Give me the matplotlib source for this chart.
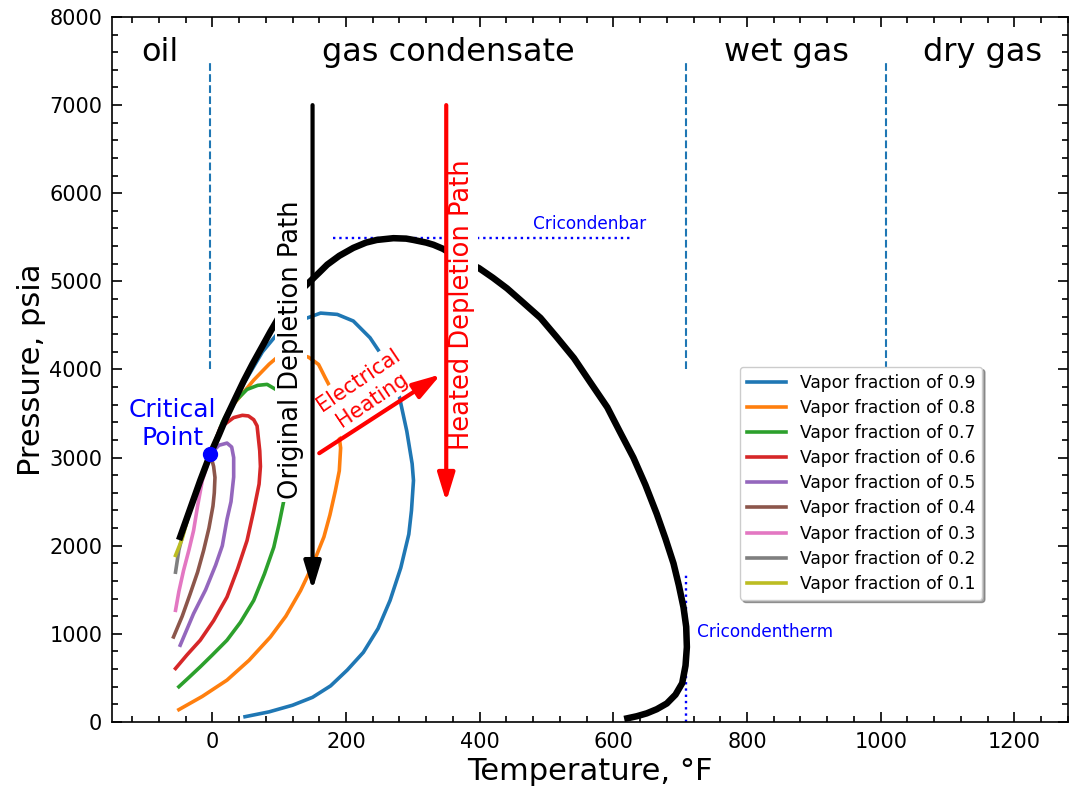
import matplotlib
matplotlib.use("Agg")
import matplotlib.pyplot as plt
from matplotlib.ticker import MultipleLocator

# phase envelope (temperature F, pressure psia)
env_T = [-48, -33, -18, -3, 10, 20, 35, 47, 60, 75, 87, 99, 115, 130, 145, 160, 172, 190, 211, 230,
         246, 271, 290, 301, 320, 331, 345, 356, 375, 399, 420, 441, 465, 491, 515, 541, 565, 591,
         610, 630, 648, 665, 678, 690, 698, 705, 709, 710, 708, 703, 693, 680, 665, 650, 635, 621]
env_P = [2100, 2420, 2740, 3040, 3260, 3440, 3680, 3870, 4060, 4265, 4430, 4585, 4750, 4880, 4990,
         5100, 5190, 5290, 5380, 5440, 5470, 5490, 5485, 5470, 5440, 5415, 5370, 5320, 5240, 5150,
         5040, 4920, 4760, 4585, 4370, 4130, 3860, 3570, 3290, 3000, 2690, 2360, 2080, 1800, 1550,
         1300, 1080, 850, 640, 440, 310, 210, 145, 98, 65, 42]

# lines of constant vapor fraction
vf09_T = [-3, 20, 47, 75, 99, 120, 144, 162, 187, 211, 236, 251, 265, 279, 291, 299, 301, 298, 294,
          282, 266, 248, 226, 202, 177, 150, 120, 85, 49]
vf09_P = [3040, 3420, 3840, 4200, 4420, 4530, 4590, 4640, 4625, 4550, 4360, 4190, 3960, 3720, 3300,
          2930, 2740, 2400, 2130, 1750, 1380, 1060, 790, 590, 410, 280, 190, 115, 60]
vf08_T = [-3, 27, 62, 85, 99, 120, 144, 159, 169, 177, 184, 189, 192, 190, 184, 176, 167, 149, 132,
          110, 87, 55, 22, -15, -50]
vf08_P = [3040, 3560, 3880, 4060, 4150, 4190, 4140, 4057, 3906, 3790, 3550, 3280, 3110, 2850, 2620,
          2350, 2100, 1760, 1490, 1200, 965, 700, 475, 290, 140]
vf07_T = [-3, 15, 29, 52, 68, 82, 99, 110, 115, 114, 107, 100, 92, 78, 62, 42, 22, 0, -18, -35, -50]
vf07_P = [3040, 3400, 3600, 3774, 3820, 3831, 3756, 3550, 3200, 2850, 2511, 2250, 1983, 1680, 1380,
          1130, 928, 760, 626, 505, 400]
vf06_T = [-3, 12, 32, 45, 54, 62, 67, 71, 72, 70, 62, 52, 38, 22, 2, -18, -38, -55]
vf06_P = [3040, 3341, 3454, 3480, 3473, 3430, 3360, 3077, 2900, 2700, 2400, 2059, 1740, 1418, 1150,
          928, 760, 607]
vf05_T = [-3, 10, 22, 29, 32, 32, 28, 22, 15, 5, -10, -28, -48]
vf05_P = [3040, 3140, 3165, 3120, 3000, 2780, 2500, 2300, 2000, 1780, 1500, 1230, 871]
vf04_T = [-3, 2, 4, 3, 1, -5, -13, -22, -33, -45, -58]
vf04_P = [3040, 2900, 2775, 2600, 2450, 2200, 1946, 1700, 1456, 1200, 965]
vf03_T = [-3, -8, -15, -22, -28, -35, -43, -50, -55]
vf03_P = [3040, 2900, 2738, 2450, 2172, 1950, 1719, 1480, 1267]
vf02_T = [-3, -18, -33, -45, -50, -55]
vf02_P = [3040, 2720, 2400, 2100, 1950, 1700]
vf01_T = [-3, -18, -33, -45, -55]
vf01_P = [3040, 2730, 2410, 2080, 1890]

fractions = ["0.9", "0.8", "0.7", "0.6", "0.5", "0.4", "0.3", "0.2", "0.1"]

crit_T, crit_P = -3, 3040
cricondenbar = 5490
cricondentherm = 708
boundaries = [-3, 708, 1008]
regions = ["oil", "gas condensate", "wet gas", "dry gas"]
region_T = [-78, 353, 859, 1152]

fig, ax = plt.subplots(figsize=(10.7, 7.94), dpi=100)
fig.subplots_adjust(left=0.1047, right=0.998, top=0.9786, bottom=0.0907)

curves = [(vf09_T, vf09_P), (vf08_T, vf08_P), (vf07_T, vf07_P), (vf06_T, vf06_P), (vf05_T, vf05_P),
          (vf04_T, vf04_P), (vf03_T, vf03_P), (vf02_T, vf02_P), (vf01_T, vf01_P)]
for i, (T, P) in enumerate(curves):
    ax.plot(T, P, color="C%d" % i, lw=2.6, zorder=2,
            label="Vapor fraction of " + fractions[i])

ax.plot(env_T, env_P, color="black", lw=4.7, zorder=3)
ax.plot(crit_T, crit_P, "o", color="blue", ms=10, zorder=4)

# region boundaries
for b in boundaries:
    ax.plot([b, b], [4000, 7500], "--", color="C0", lw=1.5, zorder=1)
for name, t in zip(regions, region_T):
    ax.text(t, 7500, name, fontsize=23, ha="center")

# cricondenbar / cricondentherm
ax.plot([180, 630], [cricondenbar, cricondenbar], ":", color="blue", lw=1.7)
ax.text(480, 5590, "Cricondenbar", color="blue", fontsize=12.2)
ax.plot([cricondentherm, cricondentherm], [0, 1700], ":", color="blue", lw=1.7)
ax.text(725, 960, "Cricondentherm", color="blue", fontsize=12.2)

ax.text(-60, 3380, "Critical\nPoint", color="blue", fontsize=18, ha="center", va="center")

# depletion paths
box = dict(facecolor="white", edgecolor="none", pad=2)
ax.text(118, 4220, "Original Depletion Path", rotation=90, fontsize=18.5,
        ha="center", va="center", bbox=box, zorder=5)
ax.text(374, 4740, "Heated Depletion Path", rotation=90, fontsize=18.5, color="red",
        ha="center", va="center", bbox=box, zorder=5)
ax.text(229, 3767, "Electrical\nHeating", rotation=34, fontsize=15, color="red",
        ha="center", va="center", multialignment="center", bbox=box, zorder=5)

arrow_style = "-|>,head_length=0.85,head_width=0.26"
ax.annotate("", xy=(150, 1500), xytext=(150, 7000), zorder=6,
            arrowprops=dict(arrowstyle=arrow_style, mutation_scale=20, lw=3,
                            color="black", shrinkA=0, shrinkB=0))
ax.annotate("", xy=(350, 2500), xytext=(350, 7000), zorder=6,
            arrowprops=dict(arrowstyle=arrow_style, mutation_scale=20, lw=3,
                            color="red", shrinkA=0, shrinkB=0))
ax.annotate("", xy=(342, 3945), xytext=(160, 3050), zorder=6,
            arrowprops=dict(arrowstyle=arrow_style, mutation_scale=20, lw=3,
                            color="red", shrinkA=0, shrinkB=0))

ax.set_xlim(-150, 1280)
ax.set_ylim(0, 8000)
ax.xaxis.set_major_locator(MultipleLocator(200))
ax.xaxis.set_minor_locator(MultipleLocator(40))
ax.yaxis.set_major_locator(MultipleLocator(1000))
ax.yaxis.set_minor_locator(MultipleLocator(200))
ax.tick_params(which="both", direction="in", top=True, right=True, width=1.2)
ax.tick_params(which="major", length=7, labelsize=15, pad=7)
ax.tick_params(which="minor", length=4)
for s in ax.spines.values():
    s.set_linewidth(1.2)

ax.set_xlabel("Temperature, °F", fontsize=22)
ax.set_ylabel("Pressure, psia", fontsize=22, labelpad=2)

ax.legend(loc="upper left", bbox_to_anchor=(0.657, 0.504), borderaxespad=0, fontsize=12.3,
          shadow=True, handlelength=2.3, labelspacing=0.42, framealpha=1)

fig.savefig("out.png", dpi=100)
